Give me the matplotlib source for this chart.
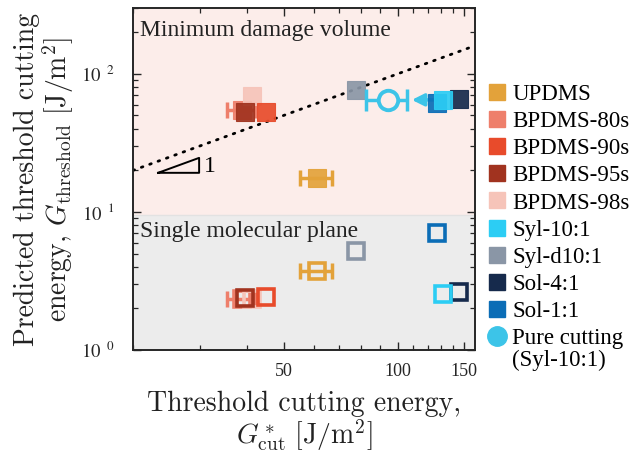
import matplotlib
matplotlib.use("Agg")
import matplotlib.pyplot as plt
from matplotlib.lines import Line2D
from matplotlib.ticker import FixedLocator, NullFormatter

# data
samples = ['UPDMS', 'BPDMS-80s', 'BPDMS-90s', 'BPDMS-95s', 'BPDMS-98s',
           'Syl-10:1', 'Syl-d10:1', 'Sol-4:1', 'Sol-1:1']
colors = ['#E3A23A', '#EE7F6B', '#E84B2B', '#A1331F', '#F6C4B9',
          '#2CCDF4', '#8A96A6', '#162A4C', '#0B6DB6']
g_cut = [61.2, 38.8, 44.9, 39.5, 41.3, 132.0, 77.4, 145.0, 127.0]
g_cut_err = [6.0, 3.3, 0, 0, 0, 0, 0, 0, 0]
g_thr_volume = [17.6, 54.8, 53.0, 53.0, 69.3, 64.8, 76.6, 65.9, 61.6]
g_thr_plane = [3.74, 2.34, 2.42, 2.38, 2.35, 2.54, 5.25, 2.63, 7.04]
zorders = [3, 3, 5, 5, 4, 7, 3, 5, 6]

pure_label = 'Pure cutting'
pure_sub = '(Syl-10:1)'
pure_color = '#3CC4E8'
pure_x, pure_y, pure_err = 94.2, 64.8, 11.5
arrow_tip = 109.0

region_split = 9.5
xlim = (20, 160)
ylim = (1, 300)

# slope triangle
tri_x0, tri_x1, tri_y0 = 23.3, 29.9, 19.2

fig = plt.figure(figsize=(6.36, 4.62), dpi=100)
ax = fig.add_axes([0.2091, 0.2424, 0.5377, 0.7403])
ax.set_xscale('log')
ax.set_yscale('log')
ax.set_xlim(*xlim)
ax.set_ylim(*ylim)

ax.axhspan(region_split, ylim[1], color='#FCEDEA', zorder=0, lw=0)
ax.axhspan(ylim[0], region_split, color='#ECECEC', zorder=0, lw=0)
ax.axhline(region_split, color='#E2E2E2', lw=1, zorder=0.5)

serif = 'Liberation Serif'
ax.text(20.9, 205, 'Minimum damage volume', fontsize=17, family=serif,
        color='#222222', va='center')
ax.text(20.9, 7.2, 'Single molecular plane', fontsize=17, family=serif,
        color='#222222', va='center')

# slope-1 guide
ax.plot(xlim, xlim, color='black', lw=2, ls=(0, (0.6, 2.6)), dash_capstyle='round', zorder=2)
tri_y1 = tri_y0 * tri_x1 / tri_x0
ax.plot([tri_x0, tri_x1, tri_x1, tri_x0], [tri_y0, tri_y0, tri_y1, tri_y0],
        color='black', lw=1.4, zorder=2)
ax.text(tri_x1 * 1.03, tri_y0 * 1.12, '1', fontsize=17, family=serif, va='center')

for name, c, x, xe, yv, yp, z in zip(samples, colors, g_cut, g_cut_err,
                                      g_thr_volume, g_thr_plane, zorders):
    if xe > 0:
        ax.errorbar([x], [yv], xerr=[xe], fmt='none', ecolor=c, elinewidth=2.5,
                    capsize=6, capthick=2.5, zorder=z - 0.5)
        ax.errorbar([x], [yp], xerr=[xe], fmt='none', ecolor=c, elinewidth=2.5,
                    capsize=6, capthick=2.5, zorder=z - 0.5)
    ax.plot([x], [yv], marker='s', ms=13, color=c, mec=c, mew=0.8, alpha=0.92,
            ls='none', zorder=z)
    ax.plot([x], [yp], marker='s', ms=11.5, mfc='none', mec=c, mew=2.6,
            ls='none', zorder=z)

ax.errorbar([pure_x], [pure_y], xerr=[pure_err], fmt='none', ecolor=pure_color,
            elinewidth=2.5, capsize=8, capthick=2.5, zorder=4)
ax.plot([pure_x], [pure_y], marker='o', ms=14, mfc='#FCEDEA', mec=pure_color,
        mew=2.8, ls='none', zorder=5)
ax.annotate('', xy=(arrow_tip, pure_y), xytext=(g_cut[8], pure_y),
            arrowprops=dict(arrowstyle='-|>', color=pure_color, lw=2.5,
                            mutation_scale=18, shrinkA=0, shrinkB=0), zorder=5)

# ticks
ax.xaxis.set_major_locator(FixedLocator([50, 100, 150]))
ax.xaxis.set_minor_locator(FixedLocator([20, 30, 40, 60, 70, 80, 90, 110, 120, 130, 140]))
ax.xaxis.set_minor_formatter(NullFormatter())
ax.set_xticklabels(['50', '100', '150'], fontsize=13, family=serif)
ax.yaxis.set_major_locator(FixedLocator([1, 10, 100]))
ax.set_yticklabels([r'$10^{\ \ 0}$', r'$10^{\ \ 1}$', r'$10^{\ \ 2}$'], fontsize=13.5)
for lab in ax.get_yticklabels():
    lab.set_math_fontfamily('stix')
ax.tick_params(which='both', direction='in', top=True, right=True, colors='#262626')
ax.tick_params(which='major', length=6, width=1.0)
ax.tick_params(which='minor', length=3.5, width=0.9)
ax.tick_params(axis='x', pad=9)
ax.tick_params(axis='y', pad=13)
for sp in ax.spines.values():
    sp.set_linewidth(1.4)
    sp.set_color('#262626')

ax.set_xlabel('Threshold cutting energy,\n' + r'$G^*_{\rm cut}\ [\rm J/m^2]$',
              fontsize=20, family='cmr10', math_fontfamily='cm', linespacing=1.0,
              color='#222222', labelpad=8)
ax.set_ylabel('Predicted threshold cutting\n' + r'energy, $G_{\rm threshold}\ [\rm J/m^2]$',
              fontsize=20, family='cmr10', math_fontfamily='cm', linespacing=1.0,
              color='#222222', labelpad=4)

handles = [Line2D([], [], marker='s', ms=12, color=c, ls='none') for c in colors]
handles.append(Line2D([], [], marker='o', ms=14, color=pure_color, ls='none'))
leg = fig.legend(handles, samples + [pure_label], loc='upper left',
                 bbox_to_anchor=(0.753, 0.838), frameon=False,
                 prop={'family': serif, 'size': 16.5}, handlelength=0.8,
                 handletextpad=0.25, labelspacing=0.265, borderaxespad=0)

# second line of the last legend entry, aligned with the legend text
fig.canvas.draw()
last = leg.get_texts()[-1].get_window_extent()
fig.text(last.x0 / fig.bbox.width, 1 - 360 / 462, pure_sub, family=serif,
         fontsize=16.5, va='center', ha='left')

fig.savefig('out.png', dpi=100)
